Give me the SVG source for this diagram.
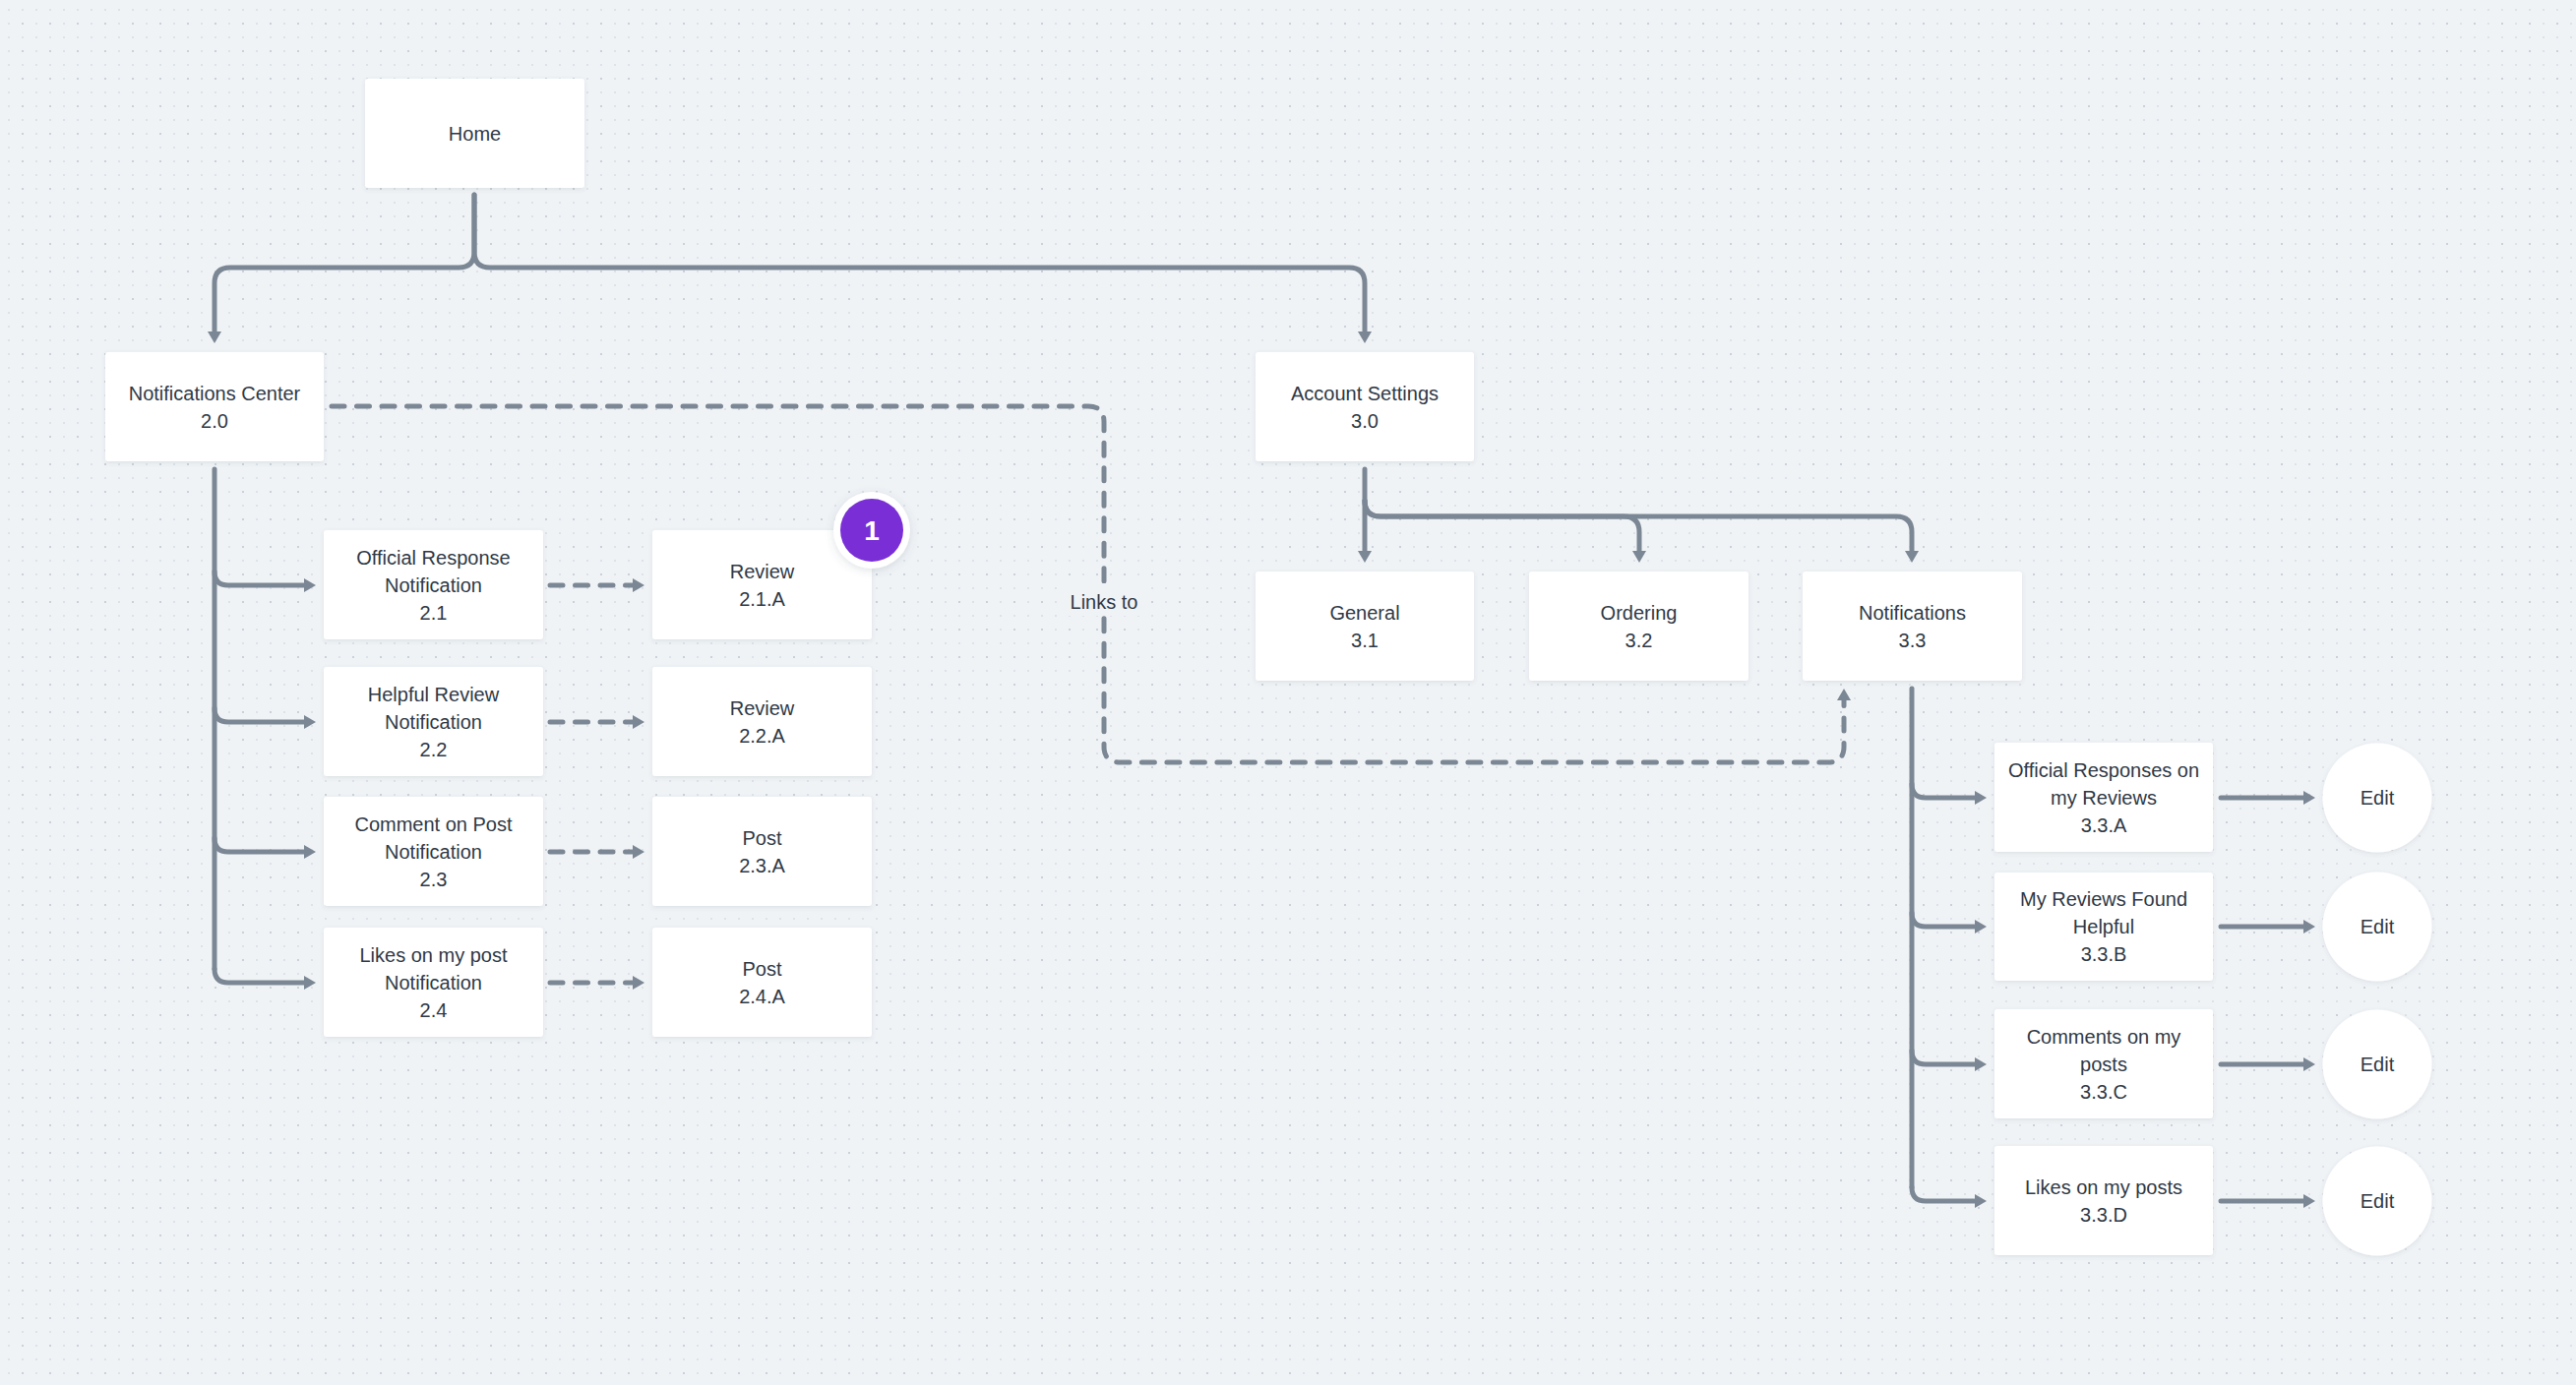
<svg xmlns="http://www.w3.org/2000/svg" width="2618" height="1408" viewBox="0 0 2618 1408">
<defs>
<style>
.box{fill:#ffffff;filter:url(#sh)}
.t{font-family:"Liberation Sans",Arial,sans-serif;font-size:20px;fill:#2f3946;text-anchor:middle}
.ln{fill:none;stroke:#7b8794;stroke-width:5;stroke-linecap:round;stroke-linejoin:round}
.arr{marker-end:url(#ah)}
.dash{stroke-dasharray:13 12.5}
</style>
<pattern id="dotA" width="14" height="14" patternUnits="userSpaceOnUse" x="8" y="9">
<rect x="0" y="0" width="2" height="2" fill="#dde2e9"/>
</pattern>
<pattern id="dotB" width="28" height="28" patternUnits="userSpaceOnUse" x="22" y="23">
<rect x="0" y="0" width="2" height="2" fill="#cbd1da"/>
</pattern>
<filter id="sh" x="-10%" y="-10%" width="120%" height="130%">
<feDropShadow dx="0" dy="1.5" stdDeviation="2" flood-color="#4a5a6a" flood-opacity="0.12"/>
</filter>
<filter id="sh2" x="-30%" y="-30%" width="160%" height="160%">
<feDropShadow dx="0" dy="2" stdDeviation="4" flood-color="#4a5a6a" flood-opacity="0.18"/>
</filter>
<marker id="ah" markerUnits="userSpaceOnUse" viewBox="0 0 12 14" markerWidth="12" markerHeight="14" refX="2" refY="7" orient="auto">
<path d="M0,0 L12,7 L0,14 Z" fill="#7b8794"/>
</marker>
</defs>
<rect width="2618" height="1408" fill="#f0f3f6"/>
<rect width="2618" height="1408" fill="url(#dotA)"/>
<rect width="2618" height="1408" fill="url(#dotB)"/>

<g id="connectors">
<path class="ln arr" d="M482,198 V256 Q482,272 466,272 H234 Q218,272 218,288 V339"/>
<path class="ln arr" d="M482,198 V256 Q482,272 498,272 H1371 Q1387,272 1387,288 V339"/>
<path class="ln" d="M218,477 V985"/>
<path class="ln arr" d="M218,581 Q218,595 232,595 H311"/>
<path class="ln arr" d="M218,720 Q218,734 232,734 H311"/>
<path class="ln arr" d="M218,852 Q218,866 232,866 H311"/>
<path class="ln arr" d="M218,985 Q218,999 232,999 H311"/>
<path class="ln dash arr" d="M559,595 H645"/>
<path class="ln dash arr" d="M559,734 H645"/>
<path class="ln dash arr" d="M559,866 H645"/>
<path class="ln dash arr" d="M559,999 H645"/>
<path class="ln arr" d="M1387,477 V562"/>
<path class="ln arr" d="M1387,509 Q1387,525 1403,525 H1650 Q1666,525 1666,541 V562"/>
<path class="ln arr" d="M1387,509 Q1387,525 1403,525 H1927 Q1943,525 1943,541 V562"/>
<path class="ln dash arr" d="M337,413 H1106 Q1122,413 1122,429 V759 Q1122,775 1138,775 H1858 Q1874,775 1874,759 V710"/>
<rect x="1082" y="593" width="80" height="33" fill="#f0f3f6"/>
<text class="t" x="1122" y="619">Links to</text>
<path class="ln" d="M1943,700 V1207"/>
<path class="ln arr" d="M1943,797 Q1943,811 1957,811 H2009"/>
<path class="ln arr" d="M1943,928 Q1943,942 1957,942 H2009"/>
<path class="ln arr" d="M1943,1068 Q1943,1082 1957,1082 H2009"/>
<path class="ln arr" d="M1943,1207 Q1943,1221 1957,1221 H2009"/>
<path class="ln arr" d="M2257,811 H2343"/>
<path class="ln arr" d="M2257,942 H2343"/>
<path class="ln arr" d="M2257,1082 H2343"/>
<path class="ln arr" d="M2257,1221 H2343"/>
</g>

<g id="home"><rect class="box" x="371" y="80" width="223" height="111" rx="3"/><text class="t" x="482.5" y="143">Home</text></g>
<g id="n2-0"><rect class="box" x="107" y="358" width="222" height="111" rx="3"/><text class="t" x="218" y="407">Notifications Center</text><text class="t" x="218" y="435">2.0</text></g>
<g id="n3-0"><rect class="box" x="1276" y="358" width="222" height="111" rx="3"/><text class="t" x="1387" y="407">Account Settings</text><text class="t" x="1387" y="435">3.0</text></g>

<g id="n2-1"><rect class="box" x="329" y="539" width="223" height="111" rx="3"/><text class="t" x="440.5" y="574">Official Response</text><text class="t" x="440.5" y="602">Notification</text><text class="t" x="440.5" y="630">2.1</text></g>
<g id="n2-2"><rect class="box" x="329" y="678" width="223" height="111" rx="3"/><text class="t" x="440.5" y="713">Helpful Review</text><text class="t" x="440.5" y="741">Notification</text><text class="t" x="440.5" y="769">2.2</text></g>
<g id="n2-3"><rect class="box" x="329" y="810" width="223" height="111" rx="3"/><text class="t" x="440.5" y="845">Comment on Post</text><text class="t" x="440.5" y="873">Notification</text><text class="t" x="440.5" y="901">2.3</text></g>
<g id="n2-4"><rect class="box" x="329" y="943" width="223" height="111" rx="3"/><text class="t" x="440.5" y="978">Likes on my post</text><text class="t" x="440.5" y="1006">Notification</text><text class="t" x="440.5" y="1034">2.4</text></g>

<g id="n2-1a"><rect class="box" x="663" y="539" width="223" height="111" rx="3"/><text class="t" x="774.5" y="588">Review</text><text class="t" x="774.5" y="616">2.1.A</text></g>
<g id="n2-2a"><rect class="box" x="663" y="678" width="223" height="111" rx="3"/><text class="t" x="774.5" y="727">Review</text><text class="t" x="774.5" y="755">2.2.A</text></g>
<g id="n2-3a"><rect class="box" x="663" y="810" width="223" height="111" rx="3"/><text class="t" x="774.5" y="859">Post</text><text class="t" x="774.5" y="887">2.3.A</text></g>
<g id="n2-4a"><rect class="box" x="663" y="943" width="223" height="111" rx="3"/><text class="t" x="774.5" y="992">Post</text><text class="t" x="774.5" y="1020">2.4.A</text></g>

<g id="badge"><circle cx="886" cy="539" r="39" fill="#ffffff" filter="url(#sh2)"/><circle cx="886" cy="539" r="32" fill="#7a2ed6"/><text x="886" y="549" font-family="Liberation Sans,Arial,sans-serif" font-size="28" font-weight="bold" fill="#ffffff" text-anchor="middle">1</text></g>

<g id="n3-1"><rect class="box" x="1276" y="581" width="222" height="111" rx="3"/><text class="t" x="1387" y="630">General</text><text class="t" x="1387" y="658">3.1</text></g>
<g id="n3-2"><rect class="box" x="1554" y="581" width="223" height="111" rx="3"/><text class="t" x="1665.5" y="630">Ordering</text><text class="t" x="1665.5" y="658">3.2</text></g>
<g id="n3-3"><rect class="box" x="1832" y="581" width="223" height="111" rx="3"/><text class="t" x="1943.5" y="630">Notifications</text><text class="t" x="1943.5" y="658">3.3</text></g>

<g id="n3-3a"><rect class="box" x="2027" y="755" width="222" height="111" rx="3"/><text class="t" x="2138" y="790">Official Responses on</text><text class="t" x="2138" y="818">my Reviews</text><text class="t" x="2138" y="846">3.3.A</text></g>
<g id="n3-3b"><rect class="box" x="2027" y="887" width="222" height="110" rx="3"/><text class="t" x="2138" y="921">My Reviews Found</text><text class="t" x="2138" y="949">Helpful</text><text class="t" x="2138" y="977">3.3.B</text></g>
<g id="n3-3c"><rect class="box" x="2027" y="1026" width="222" height="111" rx="3"/><text class="t" x="2138" y="1061">Comments on my</text><text class="t" x="2138" y="1089">posts</text><text class="t" x="2138" y="1117">3.3.C</text></g>
<g id="n3-3d"><rect class="box" x="2027" y="1165" width="222" height="111" rx="3"/><text class="t" x="2138" y="1214">Likes on my posts</text><text class="t" x="2138" y="1242">3.3.D</text></g>

<g id="edit-a"><circle cx="2416" cy="811" r="55.5" fill="#ffffff" filter="url(#sh)"/><text class="t" x="2416" y="818">Edit</text></g>
<g id="edit-b"><circle cx="2416" cy="942" r="55.5" fill="#ffffff" filter="url(#sh)"/><text class="t" x="2416" y="949">Edit</text></g>
<g id="edit-c"><circle cx="2416" cy="1082" r="55.5" fill="#ffffff" filter="url(#sh)"/><text class="t" x="2416" y="1089">Edit</text></g>
<g id="edit-d"><circle cx="2416" cy="1221" r="55.5" fill="#ffffff" filter="url(#sh)"/><text class="t" x="2416" y="1228">Edit</text></g>
</svg>
